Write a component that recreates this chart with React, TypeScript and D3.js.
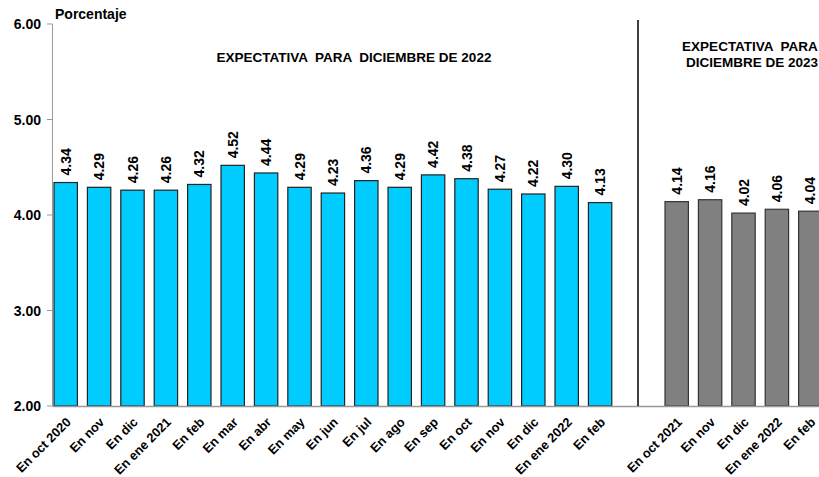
import React from "react";
import * as d3 from "d3";

const leftCats = ["En oct 2020","En nov","En dic","En ene 2021","En feb","En mar","En abr","En may","En jun","En jul","En ago","En sep","En oct","En nov","En dic","En ene 2022","En feb"];
const leftVals = [4.34,4.29,4.26,4.26,4.32,4.52,4.44,4.29,4.23,4.36,4.29,4.42,4.38,4.27,4.22,4.30,4.13];
const rightCats = ["En oct 2021","En nov","En dic","En ene 2022","En feb"];
const rightVals = [4.14,4.16,4.02,4.06,4.04];
const yTicks = [2,3,4,5,6];

const W = 819, H = 477;
const font = "'Liberation Sans', Arial, sans-serif";

export default function App() {
  const y = d3.scaleLinear().domain([2, 6]).range([406, 24]);
  const step = 33.4;
  const xl = d3.scaleBand<string>().domain(leftCats.map((c, i) => i + "")).range([49, 49 + 17 * step]).paddingInner(0.3).paddingOuter(0.15);
  const xr = d3.scaleBand<string>().domain(rightCats.map((c, i) => i + "")).range([660, 660 + 5 * step]).paddingInner(0.3).paddingOuter(0.15);

  const renderBars = (cats: string[], vals: number[], x: d3.ScaleBand<string>, fill: string, stroke: string) =>
    vals.map((v, i) => {
      const x0 = x(i + "")!;
      const bw = x.bandwidth();
      const cx = x0 + bw / 2;
      const top = y(v);
      return (
        <g key={i}>
          <rect x={x0} y={top} width={bw} height={y(2) - top} fill={fill} stroke={stroke} strokeWidth={1.2} />
          <text transform={`translate(${cx + 5},${top - 7}) rotate(-90)`} fontSize={14} fontWeight="bold" fontFamily={font} textAnchor="start">{v.toFixed(2)}</text>
          <text transform={`translate(${cx + 6},${423}) rotate(-45)`} fontSize={12.8} fontWeight="bold" fontFamily={font} textAnchor="end">{cats[i]}</text>
        </g>
      );
    });

  return (
    <svg width={W} height={H} style={{ position: "absolute", left: 0, top: 0, background: "#fff" }}>
      <rect width={W} height={H} fill="#fff" />
      {/* y axis */}
      <line x1={52.5} x2={52.5} y1={y(6)} y2={y(2)} stroke="#999" strokeWidth={1} />
      {yTicks.map((t) => (
        <g key={t}>
          <line x1={47} x2={52.5} y1={y(t)} y2={y(t)} stroke="#999" strokeWidth={1} />
          <text x={41} y={y(t) + 5} textAnchor="end" fontSize={14} fontWeight="bold" fontFamily={font}>{t.toFixed(2)}</text>
        </g>
      ))}
      <text x={55} y={19} fontSize={14} fontWeight="bold" fontFamily={font}>Porcentaje</text>
      <text x={354} y={62} textAnchor="middle" fontSize={13.5} fontWeight="bold" fontFamily={font} style={{ whiteSpace: "pre" }}>{"EXPECTATIVA  PARA  DICIEMBRE DE 2022"}</text>
      <text x={750} y={51} textAnchor="middle" fontSize={13.5} fontWeight="bold" fontFamily={font} style={{ whiteSpace: "pre" }}>{"EXPECTATIVA  PARA"}</text>
      <text x={752} y={67} textAnchor="middle" fontSize={13.5} fontWeight="bold" fontFamily={font}>DICIEMBRE DE 2023</text>
      {renderBars(leftCats, leftVals, xl, "#00CCFF", "#222")}
      {renderBars(rightCats, rightVals, xr, "#808080", "#333")}
      {/* baseline */}
      <line x1={52.5} x2={W} y1={y(2) + 0.5} y2={y(2) + 0.5} stroke="#999" strokeWidth={1.5} />
      {/* divider */}
      <line x1={638} x2={638} y1={20} y2={y(2)} stroke="#000" strokeWidth={1.5} />
    </svg>
  );
}
